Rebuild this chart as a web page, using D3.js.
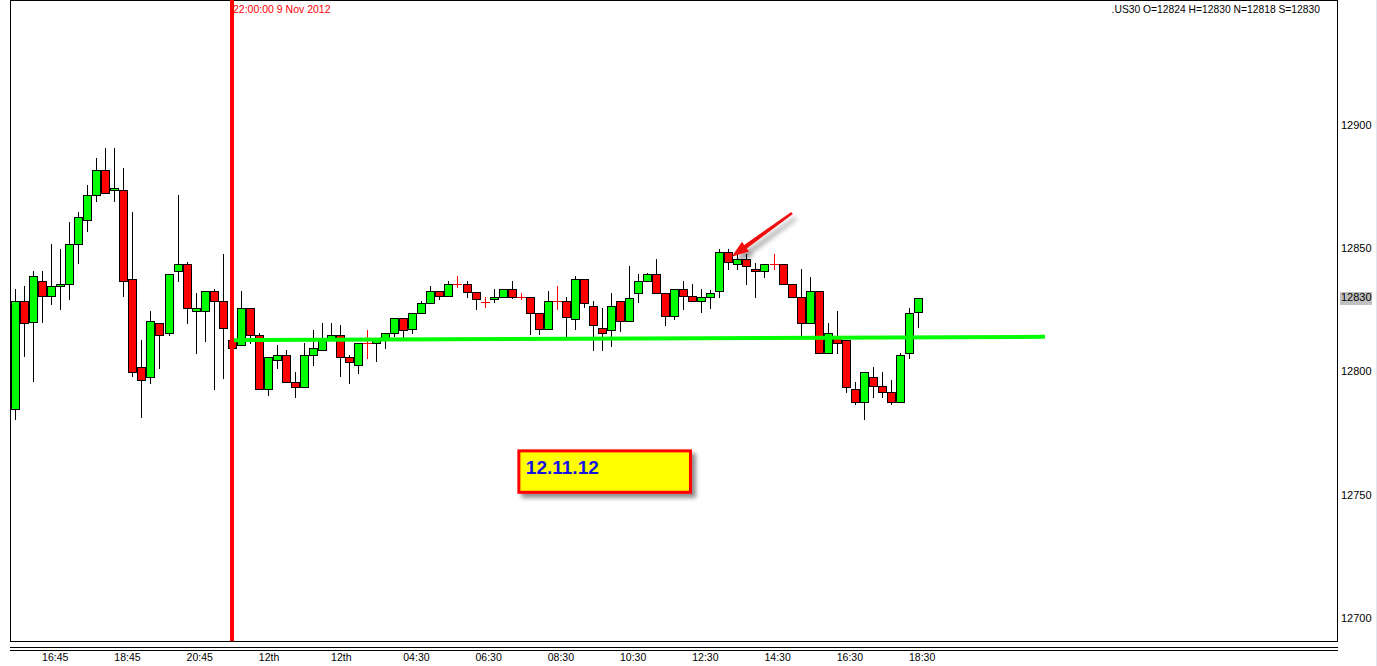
<!DOCTYPE html>
<html>
<head>
<meta charset="utf-8">
<script src="https://cdn.jsdelivr.net/npm/d3@7"></script>
<style>
  html, body { margin: 0; padding: 0; background: #fff; }
  svg { display: block; }
  text { font-family: "Liberation Sans", Arial, sans-serif; }
</style>
</head>
<body>
<svg id="chart" width="1377" height="666"></svg>
<script>
// ---------- DATA ----------
const symbolInfo = ".US30 O=12824 H=12830 N=12818 S=12830";
const separatorLabel = "22:00:00 9 Nov 2012";
const separatorIndex = 24;
const lastPrice = 12830;
const noteText = "12.11.12";

const open = [12784.7,12828.5,12820.2,12836.6,12830.5,12834.6,12835.4,12851.6,12861.3,12871.5,
  12881.6,12873.5,12873.5,12837.4,12801.7,12797.6,12819.6,12815.5,12840.6,12843.5,
  12824.4,12824.4,12832.5,12828.5,12812.7,12810.6,12825.6,12814.7,12792.8,12804.5,
  12806.6,12795.6,12793.6,12806.6,12808.7,12812.8,12814.7,12805.8,12802.5,12811.4,
  12811.4,12812.8,12815.5,12821.6,12817.4,12823.6,12827.7,12832.5,12830.5,12835.4,
  12835.5,12832.4,12828.2,12829.5,12830.3,12833.3,12830.3,12830.3,12823.6,12817.4,
  12828.5,12828.5,12821.4,12837.4,12826.5,12817.5,12816.7,12828.5,12820.4,12831.7,
  12836.6,12839.4,12831.7,12822.4,12833.3,12830.5,12828.6,12830.3,12832.7,12848.4,
  12843.5,12845.5,12841.5,12840.6,12843.5,12843.5,12835.4,12830.3,12819.6,12832.7,
  12807.4,12814.4,12812.8,12792.9,12787.5,12797.6,12794.2,12791.6,12787.5,12807.4,
  12824];
const high = [12833.5,12834.7,12840.8,12840.8,12851.7,12849.7,12860.6,12864.7,12875.7,12886.6,
  12890.7,12890.7,12882.6,12864.7,12812.8,12824.4,12819.6,12839.4,12871.6,12844.4,
  12831.7,12832.5,12833.3,12847.7,12814.0,12832.7,12825.6,12815.5,12805.8,12810.8,
  12808.7,12799.7,12811.7,12816.8,12819.8,12819.8,12818.9,12806.7,12811.4,12816.8,
  12812.8,12815.5,12821.6,12821.6,12823.6,12828.5,12834.7,12832.5,12836.7,12838.7,
  12836.7,12832.4,12830.1,12833.3,12833.3,12836.6,12831.7,12830.3,12823.6,12832.7,
  12834.7,12830.3,12838.7,12837.4,12828.5,12825.8,12831.7,12828.5,12842.8,12839.6,
  12839.8,12845.6,12831.7,12833.3,12836.6,12835.5,12833.3,12833.1,12849.6,12849.6,
  12847.3,12847.5,12844.1,12843.5,12847.5,12843.5,12835.4,12841.5,12838.5,12832.7,
  12819.6,12824.5,12812.8,12795.9,12799.7,12802.0,12799.8,12796.6,12807.4,12825.9,
  12830];
const low = [12780.6,12806.4,12796.3,12820.2,12827.4,12825.4,12829.5,12844.1,12857.1,12869.3,
  12872.3,12869.3,12830.5,12798.3,12781.4,12795.5,12801.5,12814.7,12836.6,12819.6,
  12807.4,12812.5,12792.8,12797.5,12807.0,12810.6,12811.4,12792.8,12790.6,12801.5,
  12795.6,12789.5,12793.6,12802.5,12808.7,12812.8,12798.3,12795.5,12799.5,12805.6,
  12804.4,12809.4,12814.4,12813.5,12815.5,12823.6,12827.7,12829.5,12830.5,12834.4,
  12830.3,12825.5,12826.3,12828.2,12830.3,12829.7,12829.5,12815.2,12815.2,12817.4,
  12825.5,12813.9,12817.4,12826.3,12808.7,12808.7,12810.3,12816.6,12820.4,12828.3,
  12836.6,12831.7,12818.7,12821.4,12825.5,12828.5,12824.3,12825.6,12830.3,12841.5,
  12841.5,12835.4,12830.3,12838.5,12841.5,12835.4,12830.3,12814.4,12819.6,12807.4,
  12807.4,12807.4,12791.6,12786.8,12780.6,12789.8,12789.8,12786.8,12787.5,12805.6,
  12818];
const close = [12828.5,12819.6,12838.6,12830.5,12834.6,12835.4,12851.6,12862.6,12871.5,12881.6,
  12872.3,12874.3,12836.6,12799.7,12796.6,12820.4,12814.7,12839.4,12843.5,12825.6,
  12825.6,12832.5,12828.5,12817.5,12809.4,12825.6,12814.7,12792.8,12805.8,12806.6,
  12795.6,12793.6,12806.6,12809.4,12813.5,12814.7,12805.8,12803.7,12811.4,12811.4,
  12812.8,12815.5,12821.6,12816.7,12823.6,12827.7,12832.5,12830.6,12835.4,12835.4,
  12832.4,12829.5,12828.2,12830.3,12833.3,12830.3,12830.3,12823.6,12817.4,12828.5,
  12828.5,12822.2,12837.4,12827.7,12818.7,12815.5,12826.5,12820.4,12829.7,12836.6,
  12839.4,12831.7,12822.4,12833.3,12830.5,12828.5,12830.3,12831.7,12848.4,12844.3,
  12845.5,12842.8,12840.6,12843.5,12843.5,12835.4,12830.3,12819.6,12832.7,12807.4,
  12815.5,12811.4,12793.6,12787.5,12799.7,12794.2,12791.6,12787.5,12806.7,12823.6,
  12830];

const timeTickIndex = [3,11,19,27,35,43,51,59,67,75,83,91,99];
const timeTickLabels = ["16:45","18:45","20:45","12th","12th","04:30","06:30","08:30","10:30","12:30","14:30","16:30","18:30"];
const priceTicks = [12700,12750,12800,12850,12900];

// annotations (in candle-index / price units)
const trendIndex = [24.14, 114.06];
const trendPrice = [12812.7, 12814.08];
const arrowIndex = [86.05, 79.37];      // tail, tip
const arrowPrice = [12864.3, 12846.6];
const noteIndex = [55.8, 74.8];          // left, right
const notePrice = [12767.8, 12751.0];    // top, bottom

// ---------- LAYOUT ----------
const W = 1377, H = 666;
const plotLeft = 10, plotRight = 1337, plotTop = 0, plotBottom = 641;

const x = d3.scaleLinear().domain([0, 100]).range([15, 918]);
const y = d3.scaleLinear().domain([12700, 12900]).range([618, 125]);

const GREEN = "#00FF00", RED = "#FF0000";

const svg = d3.select("#chart");
svg.append("rect").attr("width", W).attr("height", H).attr("fill", "#fff");

const defs = svg.append("defs");
const sh = defs.append("filter").attr("id", "shadow").attr("x", "-20%").attr("y", "-20%").attr("width", "150%").attr("height", "160%");
sh.append("feDropShadow").attr("dx", 4).attr("dy", 4).attr("stdDeviation", 2)
  .attr("flood-color", "#000").attr("flood-opacity", 0.45);
const sh2 = defs.append("filter").attr("id", "shadow2").attr("x", "-30%").attr("y", "-30%").attr("width", "180%").attr("height", "180%");
sh2.append("feDropShadow").attr("dx", 4).attr("dy", 5).attr("stdDeviation", 2.5)
  .attr("flood-color", "#000").attr("flood-opacity", 0.4);

// frame
svg.append("line").attr("x1", plotLeft + 0.5).attr("x2", plotLeft + 0.5).attr("y1", plotTop).attr("y2", plotBottom + 0.5)
  .attr("stroke", "#000");
svg.append("line").attr("x1", plotRight + 0.5).attr("x2", plotRight + 0.5).attr("y1", plotTop).attr("y2", plotBottom + 0.5)
  .attr("stroke", "#000");
svg.append("line").attr("x1", plotLeft).attr("x2", plotRight + 1).attr("y1", 0.5).attr("y2", 0.5).attr("stroke", "#000");
svg.append("line").attr("x1", plotLeft).attr("x2", plotRight + 1).attr("y1", plotBottom + 0.5).attr("y2", plotBottom + 0.5).attr("stroke", "#000");
svg.append("line").attr("x1", plotLeft).attr("x2", plotRight + 1).attr("y1", 647.5).attr("y2", 647.5).attr("stroke", "#000");
svg.append("line").attr("x1", plotLeft).attr("x2", plotRight + 1).attr("y1", 650.5).attr("y2", 650.5).attr("stroke", "#000");
svg.append("line").attr("x1", 1376.5).attr("x2", 1376.5).attr("y1", 0).attr("y2", H).attr("stroke", "#dfe6ee");

// candles
const idx = d3.range(open.length);
const g = svg.append("g");
idx.forEach(i => {
  const cx = Math.round(x(i));
  const o = open[i], c = close[i];
  const doji = o === c;
  const col = c > o ? GREEN : RED;
  g.append("line")
    .attr("x1", cx + 0.5).attr("x2", cx + 0.5)
    .attr("y1", Math.round(y(high[i]))).attr("y2", Math.round(y(low[i])) + 1)
    .attr("stroke", doji ? RED : "#000").attr("stroke-width", 1);
  if (doji) {
    g.append("line")
      .attr("x1", cx - 4).attr("x2", cx + 5)
      .attr("y1", Math.round(y(o)) + 0.5).attr("y2", Math.round(y(o)) + 0.5)
      .attr("stroke", RED).attr("stroke-width", 1);
  } else {
    const top = Math.round(y(Math.max(o, c)));
    const bot = Math.round(y(Math.min(o, c)));
    g.append("rect")
      .attr("x", cx - 4 + 0.5).attr("y", top + 0.5)
      .attr("width", 8).attr("height", Math.max(1, bot - top))
      .attr("fill", col).attr("stroke", "#000").attr("stroke-width", 1);
  }
});

// trend line (horizontal support)
svg.append("line")
  .attr("x1", x(trendIndex[0])).attr("y1", y(trendPrice[0]))
  .attr("x2", x(trendIndex[1])).attr("y2", y(trendPrice[1]))
  .attr("stroke", GREEN).attr("stroke-width", 4);

// period separator
const sx = x(separatorIndex);
svg.append("rect").attr("x", Math.round(sx) - 2).attr("y", 0).attr("width", 4).attr("height", plotBottom)
  .attr("fill", RED);
svg.append("text").attr("x", Math.round(sx) + 1).attr("y", 12.7)
  .attr("font-size", "10.5px").attr("fill", RED).text(separatorLabel);

// arrow
(function () {
  const tx = x(arrowIndex[0]), ty = y(arrowPrice[0]);
  const hx = x(arrowIndex[1]), hy = y(arrowPrice[1]);
  const dx = hx - tx, dy = hy - ty, L = Math.hypot(dx, dy);
  const ux = dx / L, uy = dy / L, nx = -uy, ny = ux;
  const headLen = 17, headHalf = 6, tailHalf = 1.3, neckHalf = 2.2;
  const bx = hx - ux * headLen, by = hy - uy * headLen;
  const pts = [
    [tx + nx * tailHalf, ty + ny * tailHalf],
    [bx + nx * neckHalf, by + ny * neckHalf],
    [bx + nx * headHalf, by + ny * headHalf],
    [hx, hy],
    [bx - nx * headHalf, by - ny * headHalf],
    [bx - nx * neckHalf, by - ny * neckHalf],
    [tx - nx * tailHalf, ty - ny * tailHalf]
  ];
  svg.append("path").attr("d", d3.line()(pts) + "Z")
    .attr("fill", "#F01010").attr("filter", "url(#shadow2)");
})();

// note box
const nx0 = x(noteIndex[0]), nx1 = x(noteIndex[1]);
const ny0 = y(notePrice[0]), ny1 = y(notePrice[1]);
svg.append("rect").attr("x", nx0).attr("y", ny0).attr("width", nx1 - nx0).attr("height", ny1 - ny0)
  .attr("fill", "#FFFF00").attr("stroke", RED).attr("stroke-width", 3).attr("filter", "url(#shadow)");
svg.append("text").attr("x", nx0 + 7).attr("y", ny0 + 23.5)
  .attr("font-size", "19px").attr("font-weight", "bold").attr("fill", "#1414E6").text(noteText);

// price axis
priceTicks.forEach(p => {
  svg.append("text").attr("x", 1341).attr("y", y(p)).attr("dy", "0.35em")
    .attr("font-size", "11px").attr("fill", "#000").text(p);
});
svg.append("rect").attr("x", 1340).attr("y", Math.round(y(lastPrice)) - 6).attr("width", 32).attr("height", 13)
  .attr("fill", "#C0C0C0");
svg.append("text").attr("x", 1341).attr("y", y(lastPrice)).attr("dy", "0.35em")
  .attr("font-size", "11px").attr("fill", "#000").text(lastPrice);

// time axis
timeTickIndex.forEach((ti, k) => {
  svg.append("text").attr("x", x(ti)).attr("y", 661)
    .attr("font-size", "10.5px").attr("fill", "#000").text(timeTickLabels[k]);
});

// symbol info
svg.append("text").attr("x", 1320).attr("y", 12.7).attr("text-anchor", "end")
  .attr("font-size", "10.3px").attr("fill", "#000").text(symbolInfo);
</script>
</body>
</html>
